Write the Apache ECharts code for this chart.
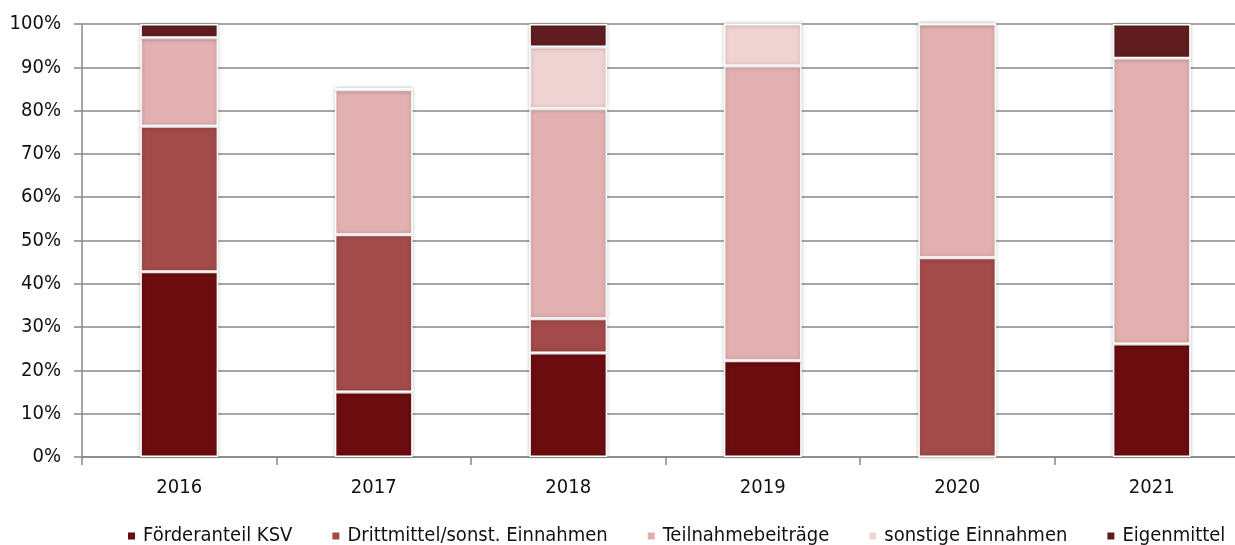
<!DOCTYPE html>
<html lang="de" style="height: 100%">
<head>
    <meta charset="utf-8"/>
</head>
<body style="height: 100%; margin: 0; overflow: hidden; background: #fff">
<div id="container" style="width: 1235px; height: 545px"></div>

<script type="text/javascript" src="https://cdn.jsdelivr.net/npm/echarts@6/dist/echarts.min.js"></script>

<script type="text/javascript">
    // Jahre
    var years = ["2016", "2017", "2018", "2019", "2020", "2021"];

    // Anteile in %
    var foerderKSV = [42.8, 15.0, 24.0, 22.2, 0, 26.1];
    var drittmittel = [33.6, 36.3, 7.9, 0, 46.0, 0];
    var teilnahme = [20.4, 33.5, 48.5, 68.1, 54.0, 66.0];
    var sonstige = [0, 0, 14.3, 9.7, 0, 0];
    var eigenmittel = [3.2, 0.4, 5.3, 0, 0, 7.9];

    var yTicks = [0, 10, 20, 30, 40, 50, 60, 70, 80, 90, 100];

    var dom = document.getElementById("container");
    var myChart = echarts.init(dom, null, {renderer: "canvas"});

    var font = "DejaVu Sans Condensed";

    function bar(name, data, color) {
        return {
            name: name,
            type: "bar",
            stack: "total",
            barWidth: "40%",
            data: data,
            itemStyle: {
                color: color,
                borderColor: "#ffffff",
                borderWidth: 1.5,
                shadowColor: "rgba(0,0,0,0.22)",
                shadowBlur: 4
            }
        };
    }

    var option = {
        animation: false,
        textStyle: {fontFamily: font},
        // plot runs a little past the right edge, as in the original
        grid: {left: 82, width: 1167, top: 24, height: 433, outerBoundsMode: "none"},
        legend: {
            top: 521,
            left: 121,
            itemWidth: 9,
            itemHeight: 9,
            itemGap: 38,
            icon: "rect",
            textStyle: {fontSize: 20, color: "#111", fontFamily: font, padding: [0, 0, 0, 2]}
        },
        xAxis: {
            type: "category",
            data: years,
            axisLine: {lineStyle: {color: "#888", width: 1.5}},
            axisTick: {show: true, length: 8, lineStyle: {color: "#888", width: 1.5}},
            axisLabel: {fontSize: 20, color: "#111", margin: 21}
        },
        yAxis: {
            type: "value",
            min: yTicks[0],
            max: yTicks[yTicks.length - 1],
            interval: 10,
            axisLine: {show: true, lineStyle: {color: "#888", width: 1.5}},
            axisTick: {show: true, length: 8, lineStyle: {color: "#888", width: 1.5}},
            splitLine: {lineStyle: {color: "#888", width: 1.5}},
            axisLabel: {fontSize: 20, color: "#111", margin: 21, formatter: "{value}%"}
        },
        series: [
            bar("Förderanteil KSV", foerderKSV, "#6b0c0f"),
            bar("Drittmittel/sonst. Einnahmen", drittmittel, "#a34a4a"),
            bar("Teilnahmebeiträge", teilnahme, "#e2b0b0"),
            bar("sonstige Einnahmen", sonstige, "#efd3d2"),
            bar("Eigenmittel", eigenmittel, "#5f1d21")
        ]
    };

    myChart.setOption(option);
    window.addEventListener("resize", myChart.resize);
</script>
</body>
</html>
